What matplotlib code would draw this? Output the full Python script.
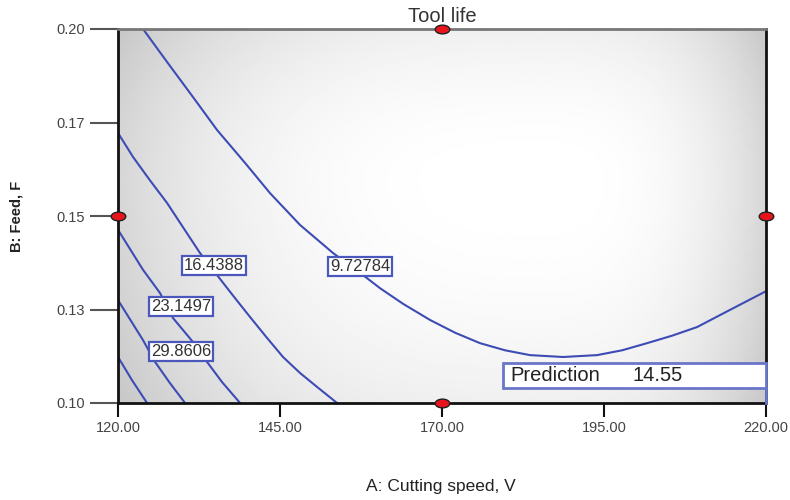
import numpy as np
import matplotlib
matplotlib.use("Agg")
import matplotlib.pyplot as plt
from matplotlib.path import Path
from matplotlib.patches import Rectangle

plt.rcParams['font.family'] = ['Liberation Sans', 'DejaVu Sans']

# contour lines (speed V, feed F)
levels = [9.72784, 16.4388, 23.1497, 29.8606, 36.5715]
c1_x = [123.86, 127.56, 131.57, 135.28, 139.60, 143.46, 148.09, 153.18, 157.35,
        160.43, 164.0, 168.15, 172.0, 175.86, 179.7, 183.58, 188.67, 193.92, 197.8,
        201.64, 205.5, 209.35, 214.44, 220.0]
c1_y = [0.2000, 0.1912, 0.1818, 0.1730, 0.1642, 0.1561, 0.1476, 0.1401, 0.1348,
        0.1307, 0.1265, 0.1222, 0.1188, 0.1160, 0.1141, 0.1128, 0.1123, 0.1128, 0.1141,
        0.1160, 0.1180, 0.1203, 0.1249, 0.1299]
c2_x = [120.0, 122.31, 124.9, 127.56, 130.1, 132.65, 135.28, 137.8, 140.37, 142.9,
        145.46, 148.1, 150.71, 153.80]
c2_y = [0.1722, 0.1658, 0.1596, 0.1535, 0.1468, 0.1401, 0.1342, 0.1286, 0.1230, 0.1176,
        0.1123, 0.1080, 0.1043, 0.1000]
c3_x = [120.0, 123.86, 126.48, 128.49, 131.57, 133.73, 136.05, 138.83]
c3_y = [0.1463, 0.1356, 0.1294, 0.1227, 0.1163, 0.1110, 0.1056, 0.1000]
c4_x = [120.0, 123.86, 125.71, 128.02, 130.34]
c4_y = [0.1275, 0.1168, 0.1110, 0.1053, 0.1000]
c5_x = [120.0, 122.16, 124.48]
c5_y = [0.1123, 0.1061, 0.1000]

# where the contour labels sit
label_x = [157.35, 134.81, 129.72, 129.72]
label_y = [0.1366, 0.1368, 0.1259, 0.1139]
label_txt = ['9.72784', '16.4388', '23.1497', '29.8606']

# design points
pts_x = [170, 120, 220, 170]
pts_y = [0.20, 0.15, 0.15, 0.10]

# prediction flag
pred_x = 220
pred_y = 0.10
pred_val = 14.55

x_ticks = [120, 145, 170, 195, 220]
y_ticks = [0.10, 0.125, 0.15, 0.175, 0.20]
y_labels = ['0.10', '0.13', '0.15', '0.17', '0.20']

blue = '#3d4cb4'

fig = plt.figure(figsize=(7.9, 5.0), dpi=100)
ax = fig.add_axes([0.1494, 0.194, 0.8203, 0.748])

# grey shading, light in the middle, darker at the edges
gx = np.linspace(0, 1, 300)
gy = np.linspace(0, 1, 200)
X, Y = np.meshgrid(gx, gy)
cx, cy = 0.65, 0.6
dx = np.where(X < cx, (X - cx) / cx, (X - cx) / (1 - cx))
dy = np.where(Y < cy, (Y - cy) / cy, (Y - cy) / (1 - cy))
shade = 1 - 0.16 * np.abs(dx) ** 3 - 0.06 * dy ** 2
ax.imshow(shade, extent=[120, 220, 0.10, 0.20], origin='lower', aspect='auto',
          cmap='gray', vmin=0, vmax=1, zorder=0, interpolation='bilinear')

for xs, ys in [(c1_x, c1_y), (c2_x, c2_y), (c3_x, c3_y), (c4_x, c4_y), (c5_x, c5_y)]:
    ax.plot(xs, ys, color=blue, lw=1.5, zorder=2)

for lx, ly, t in zip(label_x, label_y, label_txt):
    ax.text(lx, ly, t, ha='center', va='center', fontsize=12, color='#333333', zorder=4,
            bbox=dict(boxstyle='square,pad=0.12', fc='white', ec='#4a58bc', lw=1.6))

# prediction box
bx0 = 179.41
ax.add_patch(Rectangle((bx0, 0.1040), pred_x - bx0, 0.0067, fc='white', ec='#6a76c8',
                       lw=2, zorder=4, clip_on=False))
ax.plot([pred_x, pred_x], [pred_y, 0.1040], color='#6a76c8', lw=2, zorder=4, clip_on=False)
ax.text(bx0 + 1.1, 0.10735, 'Prediction', ha='left', va='center', fontsize=14.5,
        color='#222222', zorder=5)
ax.text(199.4, 0.10735, '%.2f' % pred_val, ha='left', va='center', fontsize=14.5,
        color='#222222', zorder=5)

# design points as flat red ellipses
circ = Path.unit_circle()
ell = Path(circ.vertices * np.array([1.0, 0.6]), circ.codes)
ax.plot(pts_x, pts_y, ls='none', marker=ell, ms=10.5, mfc='#e8141c', mec='#202020',
        mew=1, zorder=6, clip_on=False)

ax.set_xlim(120, 220)
ax.set_ylim(0.10, 0.20)
ax.set_xticks(x_ticks)
ax.set_xticklabels(['%.2f' % v for v in x_ticks])
ax.set_yticks(y_ticks)
ax.set_yticklabels(y_labels)
ax.tick_params(axis='x', length=10, width=1.5, color='#111111', labelsize=10.5,
               labelcolor='#444444', pad=3)
ax.tick_params(axis='y', length=20, width=1.5, color='#555555', labelsize=10.5,
               labelcolor='#444444', pad=4)

for s in ['left', 'bottom', 'right']:
    ax.spines[s].set_color('#111111')
    ax.spines[s].set_linewidth(2)
ax.spines['top'].set_color('#777777')
ax.spines['top'].set_linewidth(2)

ax.set_title('Tool life', fontsize=14.5, color='#333333', pad=5)
fig.text(0.558, 0.028, 'A: Cutting speed, V', ha='center', va='center',
         fontsize=12.5, color='#222222')
fig.text(0.021, 0.568, 'B: Feed, F', ha='center', va='center', rotation=90,
         fontsize=10.5, fontweight='bold', color='#222222')

fig.savefig('out.png', dpi=100)
